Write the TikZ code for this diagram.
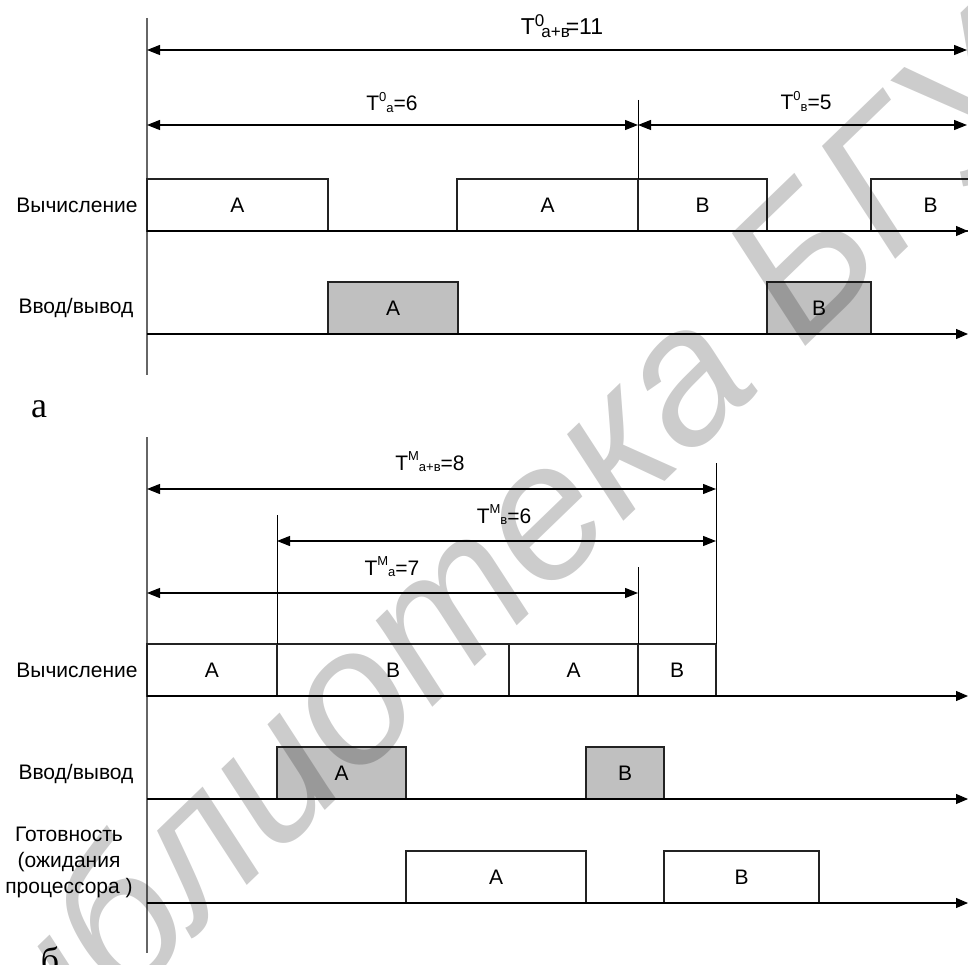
\documentclass[tikz,border=0pt]{standalone}
\usepackage{fontspec}
\setmainfont{Liberation Sans}
\newfontfamily\panelface{Liberation Serif}
\usetikzlibrary{arrows.meta}

\definecolor{iofill}{RGB}{192,192,192}
\definecolor{rulecol}{RGB}{35,35,35}

% T with a small superscript and a subscript set after it
\newcommand\tlab[3]{T\raisebox{0.47em}{\fontsize{13}{13}\selectfont #1}\raisebox{-0.05em}{\fontsize{13}{13}\selectfont #2}#3}
% one slot on a time line: name, left x, right x, line y, style, text
\newcommand\slot[6]{\node[#5, minimum width={#3-#2}, anchor=south west] (#1) at (#2,#4) {#6};}

\begin{document}
\begin{tikzpicture}[x=1pt,y=-1pt,
  every node/.style={font=\fontsize{21}{26}\selectfont, inner sep=0pt, outer sep=0pt},
  slotbox/.style={draw=rulecol, line width=1.1pt, minimum height=52pt, fill=white},
  iobox/.style={slotbox, fill=iofill},
  timeaxis/.style={draw=black, line width=1.1pt, -{Triangle[length=12pt,width=10pt]}},
  vaxis/.style={draw=black!60, line width=1.3pt},
  dimline/.style={draw=black, line width=1.1pt, {Triangle[length=13pt,width=10pt]}-{Triangle[length=13pt,width=10pt]}},
  tickline/.style={draw=black, line width=1pt},
  rowlabel/.style={align=center},
  panel/.style={font=\panelface\fontsize{36}{36}\selectfont},
  wmark/.style={font=\itshape\fontsize{192}{192}\selectfont, text=black, text opacity=0.2},
]
\useasboundingbox (0,0) rectangle (968,965);
\clip (0,0) rectangle (968,965);

% ---------------- panel a: sequential execution ----------------
\coordinate (va0) at (147,18);
\coordinate (va1) at (147,375);
\draw[vaxis] (va0) -- (va1);

% computation line
\slot{ca1}{147}{328}{231}{slotbox}{А}
\slot{ca2}{457}{638}{231}{slotbox}{А}
\slot{cb1}{638}{767}{231}{slotbox}{В}
\slot{cb2}{871}{990}{231}{slotbox}{В}
% input/output line
\slot{ia1}{328}{458}{334}{iobox}{А}
\slot{ib1}{767}{871}{334}{iobox}{В}

\coordinate (ra0) at (147,231);  \coordinate (ra1) at (968,231);
\coordinate (rb0) at (147,334);  \coordinate (rb1) at (968,334);
\draw[timeaxis] (ra0) -- (ra1);
\draw[timeaxis] (rb0) -- (rb1);

\node[rowlabel] (lca) at (77,205) {Вычисление};
\node[rowlabel] (lia) at (76,308) {Ввод/вывод};

% intervals
\coordinate (ta0) at (147,50);  \coordinate (ta1) at (967,50);
\coordinate (sa0) at (147,125); \coordinate (sa1) at (638,125); \coordinate (sa2) at (967,125);
\coordinate (ka0) at (638,100);
\draw[dimline] (ta0) -- (ta1);
\draw[dimline] (sa0) -- (sa1);
\draw[dimline] (sa1) -- (sa2);
\draw[tickline] (ka0) -- (cb1.north west);

\node[anchor=base, font=\fontsize{23}{23}\selectfont] (tab) at (562,35)
  {T\raisebox{8pt}{\fontsize{17}{17}\selectfont 0}\kern-3pt\raisebox{-3pt}{\fontsize{17}{17}\selectfont а+в}\kern-4pt=11};
\node[anchor=base] (taa) at (392,111) {\tlab{0}{а}{=6}};
\node[anchor=base] (tbb) at (806,110) {\tlab{0}{в}{=5}};

\node[panel, anchor=base] (pa) at (39,417) {а};

% ---------------- panel b: multiprogrammed execution ----------------
\coordinate (vb0) at (147,437);
\coordinate (vb1) at (147,953);
\draw[vaxis] (vb0) -- (vb1);

% computation line
\slot{mca1}{147}{277}{696}{slotbox}{А}
\slot{mcb1}{277}{509}{696}{slotbox}{В}
\slot{mca2}{509}{638}{696}{slotbox}{А}
\slot{mcb2}{638}{716}{696}{slotbox}{В}
% input/output line
\slot{mia1}{277}{406}{799}{iobox}{А}
\slot{mib1}{586}{664}{799}{iobox}{В}
% ready line
\slot{mra1}{406}{586}{903}{slotbox}{А}
\slot{mrb1}{664}{819}{903}{slotbox}{В}

\coordinate (rc0) at (147,696);  \coordinate (rc1) at (968,696);
\coordinate (rd0) at (147,799);  \coordinate (rd1) at (968,799);
\coordinate (re0) at (147,903);  \coordinate (re1) at (968,903);
\draw[timeaxis] (rc0) -- (rc1);
\draw[timeaxis] (rd0) -- (rd1);
\draw[timeaxis] (re0) -- (re1);

\node[rowlabel] (lcb) at (77,670) {Вычисление};
\node[rowlabel] (lib) at (76,774) {Ввод/вывод};
\node[rowlabel] (lrb) at (69,862) {Готовность\\(ожидания\\процессора )};

% intervals
\coordinate (m1a) at (147,489); \coordinate (m1b) at (716,489);
\coordinate (m2a) at (277,541); \coordinate (m2b) at (716,541);
\coordinate (m3a) at (147,593); \coordinate (m3b) at (638,593);
\coordinate (k1) at (716,463);
\coordinate (k2) at (277,515);
\coordinate (k3) at (638,567);
\draw[dimline] (m1a) -- (m1b);
\draw[dimline] (m2a) -- (m2b);
\draw[dimline] (m3a) -- (m3b);
\draw[tickline] (k1) -- (mcb2.north east);
\draw[tickline] (k2) -- (mcb1.north west);
\draw[tickline] (k3) -- (mcb2.north west);

\node[anchor=base] (tmab) at (430,470) {\tlab{M}{а+в}{=8}};
\node[anchor=base] (tmb) at (504,523) {\tlab{M}{в}{=6}};
\node[anchor=base] (tma) at (392,575) {\tlab{M}{а}{=7}};

\node[panel, anchor=base] (pb) at (50,972) {б};

% library stamp across the sheet
\node[wmark, rotate=44, anchor=base west] (stamp) at (-43,1166) {Библиотека БГУИР};
\end{tikzpicture}
\end{document}
